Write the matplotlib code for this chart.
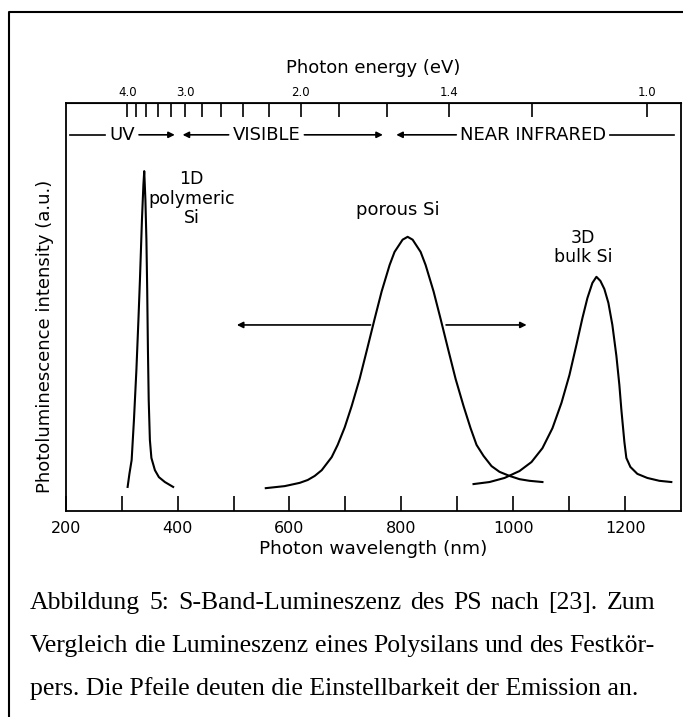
import numpy as np
import matplotlib.pyplot as plt
from matplotlib.lines import Line2D

plt.rcParams['font.family'] = 'DejaVu Sans'

HC = 1239.84  # eV * nm

# 1D polymeric Si
poly_wl = [310.7, 313.9, 317.9, 322.0, 326.4, 330.0, 332.7, 336.3, 338.9, 340.4,
           342.5, 344.3, 345.7, 347.0, 348.4, 350.5, 353.2, 359.5, 366.6, 377.3, 392.1]
poly_pl = [0.059, 0.091, 0.125, 0.223, 0.346, 0.468, 0.566, 0.713, 0.799, 0.833,
           0.762, 0.664, 0.542, 0.395, 0.272, 0.174, 0.130, 0.100, 0.083, 0.071, 0.059]

# porous Si
por_wl = [557.7, 591.6, 618.4, 632.7, 645.2, 657.7, 675.5, 686.2, 698.8, 711.2,
          725.5, 738.0, 752.3, 764.8, 779.1, 787.9, 802.3, 811.3, 820.2, 834.5,
          843.4, 857.7, 870.2, 884.5, 897.0, 911.3, 923.8, 934.5, 947.0, 961.3,
          975.5, 993.4, 1011.3, 1029.1, 1052.3]
por_pl = [0.056, 0.061, 0.069, 0.076, 0.086, 0.100, 0.132, 0.162, 0.205, 0.257,
          0.324, 0.392, 0.471, 0.538, 0.603, 0.635, 0.665, 0.672, 0.665, 0.635,
          0.603, 0.538, 0.471, 0.392, 0.324, 0.257, 0.203, 0.162, 0.135, 0.110,
          0.096, 0.086, 0.078, 0.074, 0.071]

# 3D bulk Si
bulk_wl = [929.1, 957.7, 984.5, 1011.3, 1032.7, 1052.3, 1070.2, 1086.3, 1100.5, 1113.0,
           1123.8, 1132.7, 1141.6, 1148.8, 1155.9, 1163.0, 1170.2, 1177.3, 1184.5, 1189.8,
           1193.4, 1198.8, 1202.3, 1209.5, 1222.0, 1239.8, 1261.3, 1282.7]
bulk_pl = [0.066, 0.071, 0.081, 0.098, 0.120, 0.154, 0.203, 0.265, 0.333, 0.407,
           0.473, 0.522, 0.559, 0.574, 0.564, 0.544, 0.510, 0.456, 0.380, 0.309,
           0.248, 0.169, 0.130, 0.108, 0.091, 0.081, 0.074, 0.071]

wl_ticks = list(range(200, 1300, 100))
wl_labels = [str(t) if t % 200 == 0 else '' for t in wl_ticks]
ev_ticks = [4.0, 3.8, 3.6, 3.4, 3.2, 3.0, 2.8, 2.6, 2.4, 2.2, 2.0, 1.8, 1.6, 1.4, 1.2, 1.0]
ev_labelled = [4.0, 3.0, 2.0, 1.4, 1.0]

# spectral ranges: name, label centre, start, end (nm), arrow at start, arrow at end
bands = [("UV", 301, 208, 395, False, True),
         ("VISIBLE", 559, 409, 767, True, True),
         ("NEAR INFRARED", 1036, 791, 1288, True, False)]
band_y = 0.922

# tunability arrows of the porous Si emission
tune_y = 0.456
tune_arrows = [(745, 506), (880, 1024)]

caption = ["Abbildung 5: S-Band-Lumineszenz des PS nach [23]. Zum",
           "Vergleich die Lumineszenz eines Polysilans und des Festkör-",
           "pers. Die Pfeile deuten die Einstellbarkeit der Emission an."]


def wl_to_ev(wl):
    wl = np.clip(np.asarray(wl, dtype=float), 1e-6, None)
    return HC / wl


fig = plt.figure(figsize=(6.83, 7.17), dpi=100)
W, H = 683, 717
ax = fig.add_axes([65.7 / W, 1 - 511 / H, (681 - 65.7) / W, (511 - 103) / H])

lw = 1.5
ax.plot(poly_wl, poly_pl, color='black', lw=lw, solid_joinstyle='round')
ax.plot(por_wl, por_pl, color='black', lw=lw, solid_joinstyle='round')
ax.plot(bulk_wl, bulk_pl, color='black', lw=lw, solid_joinstyle='round')

ax.set_xlim(200, 1300)
ax.set_ylim(0, 1)
ax.set_yticks([])
ax.set_xticks(wl_ticks, labels=wl_labels)
ax.tick_params(axis='x', direction='in', length=11, width=1.2, labelsize=11.5, pad=7)
for s in ax.spines.values():
    s.set_linewidth(1.3)
ax.set_xlabel('Photon wavelength (nm)', fontsize=13.3, labelpad=3)

sec = ax.secondary_xaxis('top', functions=(wl_to_ev, wl_to_ev))
sec.set_xticks(ev_ticks, labels=[f'{e:.1f}' if e in ev_labelled else '' for e in ev_ticks])
sec.tick_params(direction='in', length=10, width=1.2, labelsize=8.5, pad=3)
sec.set_xlabel('Photon energy (eV)', fontsize=13, labelpad=9)

fig.text(45 / W, 1 - 336 / H, 'Photoluminescence intensity (a.u.)', rotation=90,
         ha='center', va='center', fontsize=13)

# curve labels
ax.text(425, 0.765, '1D\npolymeric\nSi', ha='center', va='center', fontsize=12.5,
        linespacing=1.1)
ax.text(793, 0.738, 'porous Si', ha='center', va='center', fontsize=13)
ax.text(1125, 0.646, '3D\nbulk Si', ha='center', va='center', fontsize=12.5,
        linespacing=1.1)

# spectral range bar
arrow_kw = dict(arrowstyle='-|>', color='black', lw=1.2, mutation_scale=9,
                shrinkA=0, shrinkB=0)
fig.canvas.draw()
renderer = fig.canvas.get_renderer()
inv = ax.transData.inverted()
for name, mid, start, end, arr_lo, arr_hi in bands:
    t = ax.text(mid, band_y, name, ha='center', va='center', fontsize=13)
    bb = t.get_window_extent(renderer)
    x0 = inv.transform((bb.x0 - 4, 0))[0]
    x1 = inv.transform((bb.x1 + 4, 0))[0]
    for a, b, head in ((x0, start, arr_lo), (x1, end, arr_hi)):
        if head:
            ax.annotate('', xy=(b, band_y), xytext=(a, band_y), arrowprops=arrow_kw)
        else:
            ax.plot([a, b], [band_y, band_y], color='black', lw=1.2)

for a, b in tune_arrows:
    ax.annotate('', xy=(b, tune_y), xytext=(a, tune_y), arrowprops=arrow_kw)

# outer frame
fig.add_artist(Line2D([9 / W, 9 / W, 1], [0, 1 - 12 / H, 1 - 12 / H],
                      transform=fig.transFigure, color='black', lw=1.5))

# caption, first two lines justified between 30 and 655 px
cap_kw = dict(ha='left', va='center', fontsize=18.5, family='Liberation Serif')
for i, line in enumerate(caption):
    y = 1 - (603 + 43 * i) / H
    if i == len(caption) - 1:
        fig.text(30 / W, y, line, **cap_kw)
        continue
    words = [fig.text(0, y, w, **cap_kw) for w in line.split(' ')]
    widths = [w.get_window_extent(renderer).width for w in words]
    gap = (655 - 30 - sum(widths)) / (len(words) - 1)
    x = 30.0
    for w, wd in zip(words, widths):
        w.set_x(x / W)
        x += wd + gap

fig.savefig('out.png', dpi=100)
